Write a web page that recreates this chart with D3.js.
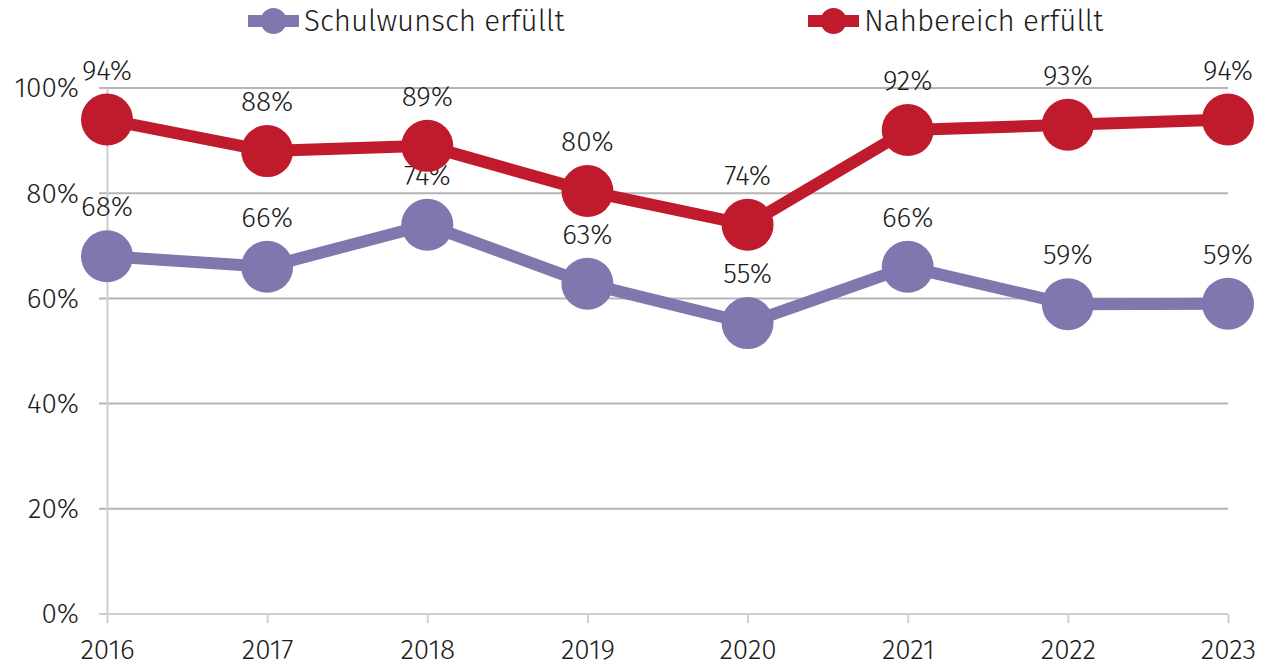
<!DOCTYPE html>
<html><head><meta charset="utf-8">
<script src="https://cdn.jsdelivr.net/npm/d3@7"></script>
<style>body{margin:0;background:#fff;}svg{display:block;font-family:"Fira Sans","Open Sans","Noto Sans",sans-serif;font-weight:300;}</style>
</head><body>
<svg id="c" width="1262" height="667"></svg>
<script>
const years = ["2016","2017","2018","2019","2020","2021","2022","2023"];
const schulwunsch = [68, 66, 74, 62.8, 55.3, 66, 58.9, 59];
const nahbereich = [94, 88, 89, 80.4, 74, 92, 93, 94];
const yTicks = [0, 20, 40, 60, 80, 100];
const seriesNames = ["Schulwunsch erfüllt", "Nahbereich erfüllt"];
const colors = ["#8077AF", "#C01B2C"];
const textColor = "#1c1c1c";

const svg = d3.select("#c");
const x = d3.scalePoint().domain(years).range([107, 1228]);
const y = d3.scaleLinear().domain([0, 100]).range([614, 88]);

// gridlines
svg.append("g").selectAll("line").data(yTicks.filter(d => d > 0)).join("line")
  .attr("x1", 99).attr("x2", 1228).attr("y1", d => y(d)).attr("y2", d => y(d))
  .attr("stroke", "#B5B5B5").attr("stroke-width", 2);

// y axis
const ya = svg.append("g").attr("transform", "translate(107,0)")
  .call(d3.axisLeft(y).tickValues(yTicks).tickFormat(d => d + "%").tickSize(0).tickPadding(28));
ya.select(".domain").attr("stroke", "#CFCFCF").attr("stroke-width", 2);
ya.selectAll("text").attr("font-size", 28).attr("fill", textColor);

// x axis
const xa = svg.append("g").attr("transform", "translate(0,614)")
  .call(d3.axisBottom(x).tickSize(9).tickSizeOuter(0).tickPadding(16));
xa.select(".domain").attr("stroke", "#CFCFCF").attr("stroke-width", 2).attr("d", "M99,0H1228");
xa.selectAll(".tick line").attr("stroke", "#CFCFCF").attr("stroke-width", 2);
xa.selectAll("text").attr("font-size", 28).attr("fill", textColor);
svg.selectAll("g").attr("font-family", null);

const data = [schulwunsch, nahbereich];
const line = d3.line().x((d, i) => x(years[i])).y(d => y(d));

data.forEach((vals, s) => {
  const g = svg.append("g");
  g.append("path").datum(vals).attr("d", line).attr("fill", "none")
    .attr("stroke", colors[s]).attr("stroke-width", 12).attr("stroke-linejoin", "round");
  g.selectAll("circle").data(vals).join("circle")
    .attr("cx", (d, i) => x(years[i])).attr("cy", d => y(d)).attr("r", 26)
    .attr("fill", colors[s]);
  g.selectAll("text").data(vals).join("text")
    .attr("x", (d, i) => x(years[i])).attr("y", d => y(d) - 40)
    .attr("text-anchor", "middle").attr("font-size", 28).attr("fill", textColor)
    .text(d => Math.round(d) + "%");
});

// legend
const legX = [248, 808];
seriesNames.forEach((n, s) => {
  const g = svg.append("g").attr("transform", `translate(${legX[s]},21)`);
  g.append("line").attr("x1", 0).attr("x2", 51).attr("y1", 0).attr("y2", 0)
    .attr("stroke", colors[s]).attr("stroke-width", 12);
  g.append("circle").attr("cx", 25.5).attr("cy", 0).attr("r", 13).attr("fill", colors[s]);
  g.append("text").attr("x", 56).attr("y", 0).attr("dy", "0.35em")
    .attr("font-size", 29.5).attr("fill", textColor).text(n);
});
</script>
</body></html>
